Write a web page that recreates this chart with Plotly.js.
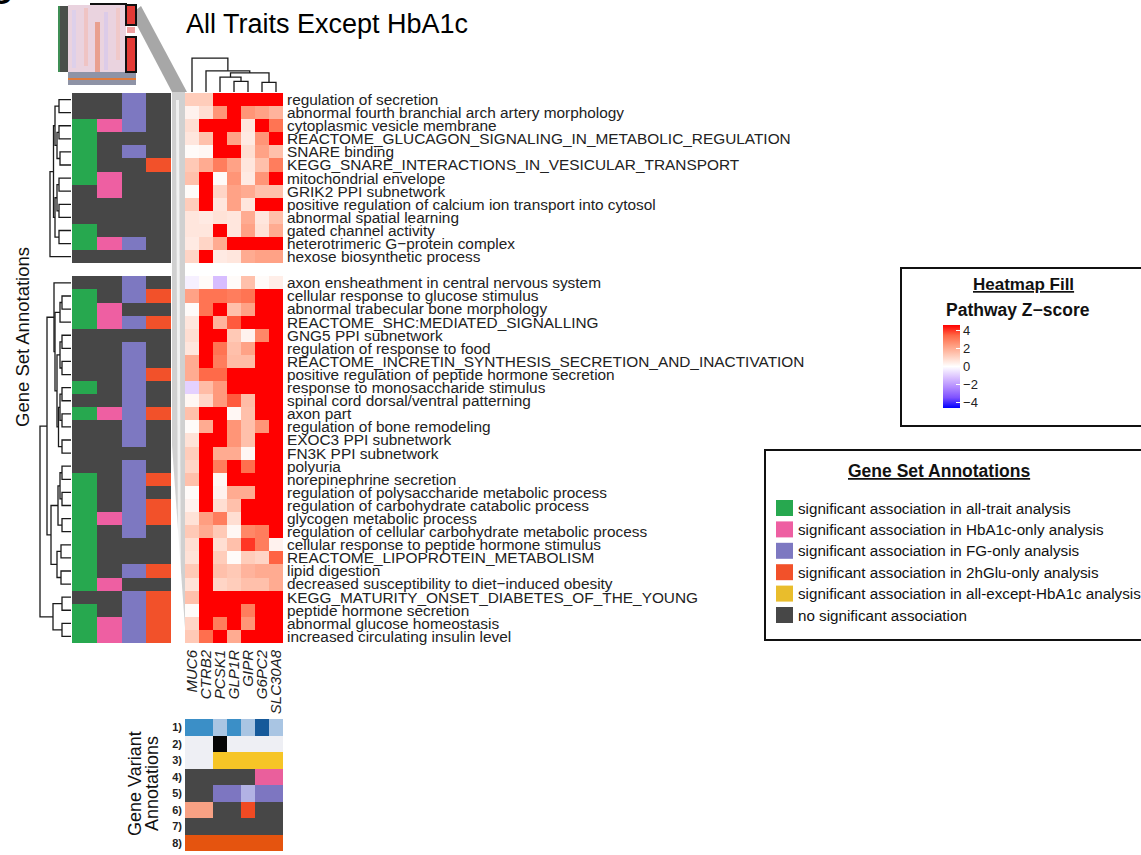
<!DOCTYPE html>
<html>
<head>
<meta charset="utf-8">
<script src="https://cdn.plot.ly/plotly-3.0.1.min.js"></script>
<style>html,body{margin:0;padding:0;background:#fff;}</style>
</head>
<body>
<div id="chart" style="width:1141px;height:855px"></div>
<script>
// ---------- data ----------
const genes = ['MUC6', 'CTRB2', 'PCSK1', 'GLP1R', 'GIPR', 'G6PC2', 'SLC30A8'];

const topPathways = [
  'regulation of secretion',
  'abnormal fourth branchial arch artery morphology',
  'cytoplasmic vesicle membrane',
  'REACTOME_GLUCAGON_SIGNALING_IN_METABOLIC_REGULATION',
  'SNARE binding',
  'KEGG_SNARE_INTERACTIONS_IN_VESICULAR_TRANSPORT',
  'mitochondrial envelope',
  'GRIK2 PPI subnetwork',
  'positive regulation of calcium ion transport into cytosol',
  'abnormal spatial learning',
  'gated channel activity',
  'heterotrimeric G\u2212protein complex',
  'hexose biosynthetic process'
];

const bottomPathways = [
  'axon ensheathment in central nervous system',
  'cellular response to glucose stimulus',
  'abnormal trabecular bone morphology',
  'REACTOME_SHC:MEDIATED_SIGNALLING',
  'GNG5 PPI subnetwork',
  'regulation of response to food',
  'REACTOME_INCRETIN_SYNTHESIS_SECRETION_AND_INACTIVATION',
  'positive regulation of peptide hormone secretion',
  'response to monosaccharide stimulus',
  'spinal cord dorsal/ventral patterning',
  'axon part',
  'regulation of bone remodeling',
  'EXOC3 PPI subnetwork',
  'FN3K PPI subnetwork',
  'polyuria',
  'norepinephrine secretion',
  'regulation of polysaccharide metabolic process',
  'regulation of carbohydrate catabolic process',
  'glycogen metabolic process',
  'regulation of cellular carbohydrate metabolic process',
  'cellular response to peptide hormone stimulus',
  'REACTOME_LIPOPROTEIN_METABOLISM',
  'lipid digestion',
  'decreased susceptibility to diet\u2212induced obesity',
  'KEGG_MATURITY_ONSET_DIABETES_OF_THE_YOUNG',
  'peptide hormone secretion',
  'abnormal glucose homeostasis',
  'increased circulating insulin level'
];

// pathway z-scores, one row per pathway, columns follow `genes`
const zTop = [
  [1.2, 1.2, 5.0, 5.0, 5.0, 5.0, 5.0],
  [0.3, 0.8, 2.5, 5.0, 2.5, 2.2, 1.8],
  [0.8, 5.0, 5.0, 5.0, 0.6, 5.0, 3.2],
  [0.6, 1.5, 5.0, 2.2, 0.5, 2.5, 5.0],
  [0.1, 0.2, 5.0, 5.0, 0.8, 2.2, 1.5],
  [1.3, 2.0, 3.0, 2.2, 0.6, 1.5, 3.0],
  [1.5, 5.0, 0.1, 2.5, 0.5, 2.5, 5.0],
  [0.1, 5.0, 1.0, 2.2, 2.0, 1.5, 1.5],
  [1.2, 5.0, 0.6, 2.2, 0.6, 5.0, 5.0],
  [0.6, 0.5, 0.7, 0.6, 2.0, 0.6, 1.5],
  [0.6, 0.6, 5.0, 0.6, 2.2, 0.7, 2.0],
  [0.5, 1.0, 2.0, 5.0, 5.0, 5.0, 5.0],
  [1.0, 5.0, 0.5, 0.6, 2.0, 2.2, 2.2]
];

const zBottom = [
  [-0.3, 0.1, -1.3, 0.1, 1.5, 0.1, 0.4],
  [2.2, 3.2, 3.2, 3.0, 3.2, 5.0, 5.0],
  [0.1, 3.2, 5.0, 1.5, 2.2, 5.0, 5.0],
  [0.6, 5.0, 1.8, 3.6, 5.0, 5.0, 5.0],
  [0.8, 5.0, 5.0, 1.3, 0.3, 2.8, 5.0],
  [0.6, 5.0, 3.2, 1.5, 2.2, 5.0, 5.0],
  [2.0, 5.0, 3.0, 1.6, 1.6, 5.0, 5.0],
  [2.0, 3.4, 3.4, 5.0, 5.0, 5.0, 5.0],
  [-0.9, 1.6, 2.4, 5.0, 5.0, 5.0, 5.0],
  [0.2, 1.0, 2.4, 3.6, 1.6, 5.0, 5.0],
  [1.5, 5.0, 5.0, 0.2, 1.5, 5.0, 5.0],
  [0.1, 2.0, 5.0, 2.5, 1.5, 2.5, 5.0],
  [0.7, 5.0, 5.0, 2.5, 1.5, 5.0, 5.0],
  [1.2, 5.0, 2.0, 2.0, 0.2, 5.0, 5.0],
  [1.0, 5.0, 3.0, 5.0, 3.3, 5.0, 5.0],
  [1.5, 5.0, 0.2, 5.0, 5.0, 5.0, 5.0],
  [0.1, 5.0, 0.3, 2.0, 2.0, 5.0, 5.0],
  [0.3, 5.0, 0.8, 1.5, 5.0, 5.0, 5.0],
  [0.7, 2.3, 3.0, 0.8, 5.0, 5.0, 5.0],
  [1.3, 2.0, 1.3, 0.2, 2.8, 3.0, 5.0],
  [0.8, 5.0, 0.8, 1.5, 4.0, 3.0, 0.3],
  [0.7, 5.0, 1.2, 0.1, 1.2, 1.0, 3.5],
  [1.3, 5.0, 1.5, 1.3, 1.8, 2.0, 2.0],
  [0.7, 5.0, 1.0, 1.2, 1.5, 1.5, 2.0],
  [1.5, 5.0, 5.0, 5.0, 5.0, 5.0, 5.0],
  [0.1, 5.0, 5.0, 5.0, 3.0, 5.0, 5.0],
  [1.0, 5.0, 3.0, 5.0, 2.5, 5.0, 5.0],
  [1.3, 3.3, 5.0, 2.0, 5.0, 5.0, 5.0]
];

// gene set annotations: all-trait, HbA1c-only, FG-only, 2hGlu-only (1 = significant)
const annotTop = [
  [0,0,1,0],[0,0,1,0],[1,1,1,0],[1,0,0,0],[1,0,1,0],[1,0,0,1],[1,1,0,0],
  [0,1,0,0],[0,0,0,0],[0,0,0,0],[1,0,0,0],[1,1,1,0],[0,0,0,0]
];
const annotBottom = [
  [0,0,1,0],[1,0,1,1],[1,1,0,0],[1,1,1,1],[0,0,0,0],[0,0,1,0],[0,0,1,0],
  [0,0,1,1],[1,0,1,0],[0,0,1,0],[1,1,1,1],[0,0,1,0],[0,0,1,0],[0,0,0,0],
  [0,0,1,0],[1,0,1,1],[1,0,1,0],[1,0,1,1],[1,1,1,1],[1,0,1,0],[1,0,0,0],
  [1,0,0,0],[1,0,1,1],[1,1,0,0],[0,0,1,1],[1,0,1,1],[1,1,1,1],[1,1,1,1]
];
const legendLabels = [
  'significant association in all-trait analysis',
  'significant association in HbA1c-only analysis',
  'significant association in FG-only analysis',
  'significant association in 2hGlu-only analysis',
  'significant association in all-except-HbA1c analysis',
  'no significant association'
];

// gene variant annotations, rows 1) to 8)
const variantRows = ['1)', '2)', '3)', '4)', '5)', '6)', '7)', '8)'];
const variantLevels = [
  ['mid', 'mid', 'low', 'mid', 'low', 'high', 'low'],
  ['na', 'na', 'yes', 'na', 'na', 'na', 'na'],
  ['na', 'na', 'yes', 'yes', 'yes', 'yes', 'yes'],
  ['no', 'no', 'no', 'no', 'no', 'yes', 'yes'],
  ['no', 'no', 'yes', 'yes', 'weak', 'yes', 'yes'],
  ['weak', 'weak', 'no', 'no', 'yes', 'no', 'no'],
  ['no', 'no', 'no', 'no', 'no', 'no', 'no'],
  ['yes', 'yes', 'yes', 'yes', 'yes', 'yes', 'yes']
];

// dendrograms: [left, right, height]; leaves are row / column indices
const colTree = [0, [1, [[2, [3, 4, 10], 14], [5, 6, 9], 18], 20], 32];

const rowTreeTop = [[[[0, 1, 12], [[2, 3, 12], [4, 5, 11], 14], 16],
                     [[[6, 7, 12], [8, 9, 12], 14], [10, 11, 12], 16], 17.5], 12, 21];

const clusterB = [[15, 16, 9], 17, 11];
const clusterC1 = [[18, 19, 9], [20, 21, 9], 11];
const clusterC3 = [[[22, 23, 9], [24, 25, 9], 11], [26, 27, 9], 12.5];
const clusterD = [14, [clusterB, [clusterC1, clusterC3, 14], 16], 17];
const clusterE = [[[28, 29, 9], [30, 31, 9], 11], [32, 33, 9], 13];
const clusterF = [[34, 35, 10], [36, 37, 10], 14];
const clusterQ = [[38, 39, 9], [40, 41, 9], 18];
const rowTreeBottom = [[clusterD, [clusterE, clusterF, 20], 24], clusterQ, 31];

// ---------- styling ----------
const W = 1141, H = 855;
const px = v => v / W;
const py = v => 1 - v / H;
const FONT = 'Liberation Sans, Arial, Helvetica, sans-serif';

const annotColors = ['#474747', '#27a84f', '#ee5fa2', '#7d78c1', '#f2512a'];
const legendColors = ['#27a84f', '#ee5fa2', '#7d78c1', '#f2512a', '#e9bd2c', '#474747'];
const variantStyle = [
  {low: '#a9c5e3', mid: '#3b8fc7', high: '#15599a'},
  {na: '#eeeff4', yes: '#050505'},
  {na: '#eeeff4', yes: '#f6c526'},
  {no: '#474747', yes: '#ea5f9c'},
  {no: '#474747', yes: '#7d76c1', weak: '#b2b2e4'},
  {no: '#474747', weak: '#f7a184', yes: '#f04a23'},
  {no: '#474747'},
  {yes: '#e5540f'}
];

// LAB-like diverging ramp blue - white - red
const zScale = [
  [0.000, 'rgb(0,0,255)'], [0.125, 'rgb(126,81,255)'], [0.250, 'rgb(178,139,255)'],
  [0.375, 'rgb(220,196,255)'], [0.500, 'rgb(255,255,255)'], [0.625, 'rgb(255,207,190)'],
  [0.750, 'rgb(255,158,129)'], [0.875, 'rgb(255,104,70)'], [1.000, 'rgb(255,0,0)']
];

function discreteScale(colors) {
  const n = colors.length, out = [];
  colors.forEach((c, k) => { out.push([k / n, c]); out.push([(k + 1) / n, c]); });
  return out;
}

// ---------- assemble rows (top slice, spacer, bottom slice) ----------
const rowLabels = [...topPathways, '', ...bottomPathways];
const rowIdx = rowLabels.map((_, i) => i);
const gapRow = genes.map(() => null);
const zMain = [...zTop, gapRow, ...zBottom];
const annotRows = [...annotTop, null, ...annotBottom];
const zAnnot = annotRows.map(r => r ? r.map((v, j) => v ? j + 1 : 0) : [null, null, null, null]);

const varPalette = [];
const zVariant = variantLevels.map((row, i) => row.map(lv => {
  const c = variantStyle[i][lv];
  let k = varPalette.indexOf(c);
  if (k < 0) { varPalette.push(c); k = varPalette.length - 1; }
  return k;
}));

// dendrogram segments
function dendro(tree) {
  const a = [], b = [];
  function walk(node) {
    if (typeof node === 'number') return {p: node, h: 0};
    const l = walk(node[0]), r = walk(node[1]), h = node[2];
    a.push(l.p, l.p, r.p, r.p, null);
    b.push(l.h, h, h, r.h, null);
    return {p: (l.p + r.p) / 2, h: h};
  }
  walk(tree);
  return {pos: a, h: b};
}
const dCol = dendro(colTree);
const dTop = dendro(rowTreeTop);
const dBot = dendro(rowTreeBottom);

const traces = [
  {
    type: 'heatmap', z: zMain, x: genes.map((_, i) => i), y: rowIdx,
    xaxis: 'x', yaxis: 'y', colorscale: zScale, zmin: -4.6, zmax: 4.6,
    hoverongaps: false,
    colorbar: {
      x: px(943), xanchor: 'left', xpad: 0, y: py(325), yanchor: 'top', ypad: 0,
      len: 83, lenmode: 'pixels', thickness: 17, outlinewidth: 0,
      tickvals: [-4, -2, 0, 2, 4], ticktext: ['\u22124', '\u22122', '0', '2', '4'],
      ticks: 'inside', ticklen: 4, tickcolor: '#ffffff', tickwidth: 1.5,
      tickfont: {family: FONT, size: 13, color: '#222'}
    }
  },
  {
    type: 'heatmap', z: zAnnot, x: [0, 1, 2, 3], y: rowIdx, xaxis: 'x2', yaxis: 'y',
    colorscale: discreteScale(annotColors), zmin: -0.5, zmax: 4.5, showscale: false, hoverongaps: false
  },
  {
    type: 'heatmap', z: zVariant, x: genes.map((_, i) => i), y: variantRows.map((_, i) => i),
    xaxis: 'x', yaxis: 'y4', colorscale: discreteScale(varPalette),
    zmin: -0.5, zmax: varPalette.length - 0.5, showscale: false
  },
  {type: 'scatter', mode: 'lines', x: dCol.pos, y: dCol.h, xaxis: 'x', yaxis: 'y3',
   line: {color: '#1a1a1a', width: 1.3}, hoverinfo: 'skip', showlegend: false},
  {type: 'scatter', mode: 'lines', x: dTop.h, y: dTop.pos, xaxis: 'x3', yaxis: 'y',
   line: {color: '#1a1a1a', width: 1.3}, hoverinfo: 'skip', showlegend: false},
  {type: 'scatter', mode: 'lines', x: dBot.h, y: dBot.pos, xaxis: 'x3', yaxis: 'y',
   line: {color: '#1a1a1a', width: 1.3}, hoverinfo: 'skip', showlegend: false}
];

const hidden = {visible: false, showgrid: false, zeroline: false, fixedrange: true};
const labelIdx = rowIdx.filter(i => rowLabels[i] !== '');

const shapes = [];
const annotations = [];
function rect(x0, y0, x1, y1, fill, line, lw, layer) {
  shapes.push({type: 'rect', xref: 'paper', yref: 'paper', x0: px(x0), x1: px(x1), y0: py(y1), y1: py(y0),
    fillcolor: fill, line: {color: line || 'rgba(0,0,0,0)', width: lw || 0}, layer: layer || 'above'});
}
function poly(pts, fill) {
  const d = pts.map((p, i) => (i ? 'L' : 'M') + px(p[0]).toFixed(5) + ',' + py(p[1]).toFixed(5)).join(' ') + ' Z';
  shapes.push({type: 'path', xref: 'paper', yref: 'paper', path: d, fillcolor: fill, line: {width: 0}, layer: 'below'});
}
function text(t, x, y, opts) {
  annotations.push(Object.assign({text: t, x: px(x), y: py(y), xref: 'paper', yref: 'paper', showarrow: false,
    font: {family: FONT, size: 15, color: '#111'}, xanchor: 'left', yanchor: 'middle'}, opts || {}));
}

// zoom ribbon from the overview down to the two slices
poly([[131, 14], [141, 6], [187, 92], [172, 92]], 'rgba(120,120,120,0.65)');
poly([[172, 92], [185, 92], [185, 628], [172, 445]], 'rgba(170,170,170,0.55)');
poly([[176, 100], [179, 100], [181, 620], [178, 560]], 'rgba(255,255,255,0.7)');

// overview thumbnail
rect(58, 6, 68, 72, '#4b4f4a');
rect(58, 6, 60, 72, '#3f8f55');
rect(68, 5, 126, 72, '#ead3df');
rect(72, 10, 76, 68, '#ddd0ea');
rect(84, 8, 88, 66, '#efc4c4');
rect(95, 22, 100, 72, '#e9a08f');
rect(104, 12, 108, 70, '#dccbe8');
rect(116, 8, 120, 60, '#f0c9c9');
rect(90, 3, 127, 5, '#111');
rect(68, 72, 136, 85, '#8e93a6');
rect(68, 78, 136, 80, '#e07a3a');
rect(126, 5, 136, 25, '#e33a35', '#111', 2);
rect(127, 27, 135, 33, '#f0a0a0');
rect(126, 37, 136, 72, '#e33a35', '#111', 2);

// panel letter, mostly above the page edge
text('<b>C</b>', -12, 12, {yanchor: 'bottom', font: {family: FONT, size: 30, color: '#000'}});

// legend: heatmap fill
rect(901, 268, 1150, 426, 'rgba(0,0,0,0)', '#111', 2);
text('<b><u>Heatmap Fill</u></b>', 1023, 285, {xanchor: 'center', font: {family: FONT, size: 17, color: '#111'}});
text('<b>Pathway Z\u2212score</b>', 944, 310, {font: {family: FONT, size: 17.5, color: '#111'}});

// legend: gene set annotations
rect(765, 450, 1150, 640, 'rgba(0,0,0,0)', '#111', 2);
text('<b><u>Gene Set Annotations</u></b>', 939, 471, {xanchor: 'center', font: {family: FONT, size: 17.5, color: '#111'}});
legendLabels.forEach((lab, k) => {
  const yc = 508 + k * 21.4;
  rect(776, yc - 8, 793, yc + 8, legendColors[k]);
  text(lab, 796, yc, {font: {family: FONT, size: 15.2, color: '#111'}});
});

// side titles
text('Gene Set Annotations', 22, 337, {textangle: -90, xanchor: 'center', font: {family: FONT, size: 18.5, color: '#111'}});
text('Gene Variant', 135, 784, {textangle: -90, xanchor: 'center', font: {family: FONT, size: 18, color: '#111'}});
text('Annotations', 152, 784, {textangle: -90, xanchor: 'center', font: {family: FONT, size: 18, color: '#111'}});

const layout = {
  width: W, height: H, margin: {l: 0, r: 0, t: 0, b: 0},
  paper_bgcolor: '#fff', plot_bgcolor: 'rgba(0,0,0,0)', showlegend: false,
  font: {family: FONT, color: '#111'},
  title: {text: 'All Traits Except HbA1c', x: px(186), xanchor: 'left', y: py(24), yanchor: 'middle',
          font: {family: FONT, size: 27, color: '#000'}},
  xaxis: {domain: [px(185), px(283)], range: [-0.5, 6.5], anchor: 'y', tickvals: genes.map((_, i) => i),
          ticktext: genes.map(g => '<i>' + g + '</i>'), tickangle: -90, ticks: '', ticklabelstandoff: 3,
          tickfont: {family: FONT, size: 15, color: '#222'}, showgrid: false, zeroline: false, showline: false, fixedrange: true},
  yaxis: {domain: [py(643), py(93)], range: [41.5, -0.5], anchor: 'x', side: 'right', tickvals: labelIdx,
          ticktext: labelIdx.map(i => rowLabels[i]), ticks: '', ticklabelstandoff: 3,
          tickfont: {family: FONT, size: 15.4, color: '#222'}, showgrid: false, zeroline: false, showline: false, fixedrange: true},
  xaxis2: Object.assign({domain: [px(72), px(171)], range: [-0.5, 3.5], anchor: 'y'}, hidden),
  xaxis3: Object.assign({domain: [px(36), px(71)], range: [35, 0], anchor: 'y'}, hidden),
  yaxis3: Object.assign({domain: [py(92), py(57)], range: [0, 33], anchor: 'x'}, hidden),
  yaxis4: {domain: [py(851), py(719)], range: [7.5, -0.5], anchor: 'x', side: 'left',
           tickvals: variantRows.map((_, i) => i), ticktext: variantRows.map(r => '<b>' + r + '</b>'),
           ticks: '', ticklabelstandoff: 2, tickfont: {family: FONT, size: 11, color: '#222'},
           showgrid: false, zeroline: false, showline: false, fixedrange: true},
  shapes: shapes, annotations: annotations
};

Plotly.newPlot('chart', traces, layout, {displayModeBar: false, staticPlot: true});
</script>
</body>
</html>
